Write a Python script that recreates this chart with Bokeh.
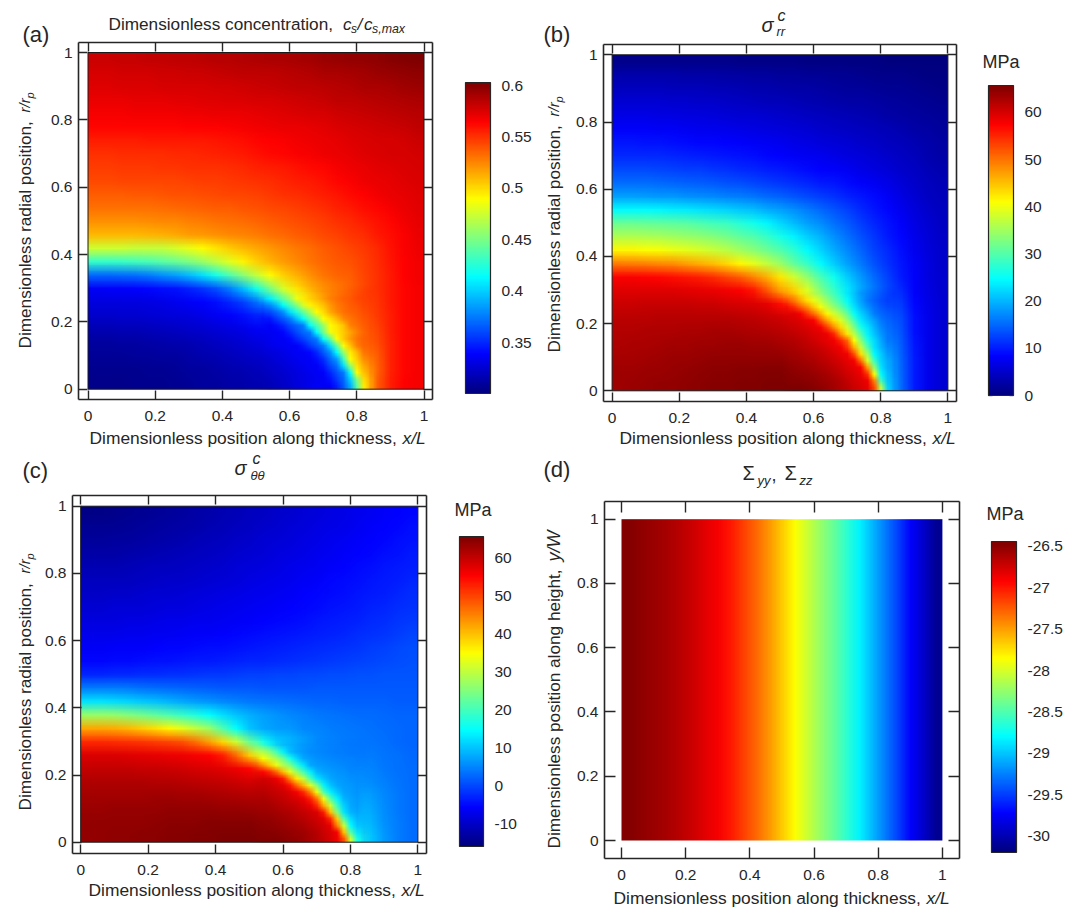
import base64, struct, zlib
import numpy as np
from bokeh.plotting import figure
from bokeh.models import Label, LinearColorMapper, ColorBar, FixedTicker, LinearAxis, Range1d, AllLabels
from bokeh.layouts import column, row
from bokeh.embed import file_html
from bokeh.resources import INLINE

tick_vals = [0, 0.2, 0.4, 0.6, 0.8, 1]
tick_text = {0: "0", 0.2: "0.2", 0.4: "0.4", 0.6: "0.6", 0.8: "0.8", 1: "1"}

# values, rows bottom (r=.02) to top (r=.98), columns x=.02 ... .98
a_grid = [
[305,305,305,306,306,306,307,308,310,311,313,314,316,318,320,323,327,335,352,400,495,538,556,565,567],
[306,306,306,306,307,307,308,310,311,313,315,317,319,321,324,327,333,345,366,420,505,535,555,564,567],
[308,308,308,309,309,310,311,313,315,317,319,321,323,326,329,333,342,365,405,470,522,538,555,564,567],
[311,311,312,312,313,314,315,317,319,321,323,326,329,332,336,342,360,405,455,505,530,542,555,564,567],
[317,317,318,318,319,320,321,323,325,327,329,332,336,341,349,365,400,445,490,520,535,545,556,564,567],
[324,324,325,325,326,327,328,330,332,335,338,342,348,357,375,410,445,478,505,527,538,548,556,564,567],
[329,329,330,330,331,332,334,336,339,343,349,358,372,395,430,462,487,508,520,532,541,549,557,564,567],
[337,338,338,339,340,342,344,348,354,363,375,395,420,450,478,498,511,521,528,535,543,550,558,564,567],
[370,370,371,372,376,381,386,394,405,420,437,455,473,490,503,513,522,530,535,538,544,551,558,565,568],
[430,430,431,433,436,440,445,451,460,470,481,492,503,512,518,524,530,535,539,541,546,552,559,565,568],
[475,475,475,473,472,473,477,483,490,497,504,510,515,520,525,529,533,538,541,544,548,553,560,566,569],
[510,510,510,510,511,513,515,518,520,522,524,526,528,531,534,537,540,543,546,549,552,557,561,566,570],
[522,522,522,522,523,524,525,527,528,530,531,533,535,537,540,542,544,547,550,553,556,560,563,568,572],
[531,531,531,532,532,533,534,535,536,537,538,540,541,543,545,547,549,552,555,558,561,564,567,570,573],
[538,538,538,539,539,540,541,541,542,543,544,545,546,548,550,552,554,556,559,562,565,568,570,572,574],
[543,543,544,544,544,545,545,546,547,547,548,549,551,552,554,556,558,560,563,566,569,571,572,574,575],
[547,547,548,548,548,549,549,550,550,551,552,553,555,556,558,560,562,564,567,569,571,573,574,575,576],
[551,551,552,552,552,552,553,553,554,555,556,558,560,562,564,566,567,569,571,572,574,575,576,577,578],
[556,556,556,556,557,557,557,558,558,559,560,561,563,565,566,568,569,571,572,574,575,576,577,578,580],
[563,563,563,564,564,564,564,565,565,565,566,567,568,569,570,571,572,573,575,576,578,579,580,581,583],
[567,567,567,568,568,568,568,569,569,570,570,571,572,573,574,575,576,577,579,580,581,582,583,585,586],
[571,571,571,572,572,572,573,573,574,574,575,575,576,577,578,579,580,581,583,584,585,586,587,588,590],
[574,574,575,575,575,576,576,577,577,578,578,579,580,581,582,583,584,585,586,587,589,590,591,593,594],
[577,577,578,578,578,579,579,580,580,581,582,583,584,584,585,586,587,589,590,591,592,594,595,597,598],
[580,580,581,581,582,582,583,584,585,586,586,587,588,589,590,591,592,594,595,596,597,598,600,601,602],
]
b_grid = [
[63.6,63.8,64,64.2,64.4,64.6,64.8,65,65.1,65.3,65.4,65.5,65.6,65.6,65.4,65,64,62,58,54,22,15,10,7,5.5],
[63.4,63.5,63.7,63.9,64.1,64.3,64.5,64.7,64.9,65,65.1,65.2,65.2,65,64.8,64.2,63,60.5,56,40,22,14.8,10,7,5.5],
[63,63.1,63.3,63.5,63.7,63.9,64.1,64.2,64.3,64.4,64.4,64.4,64.2,63.9,63.3,62.3,60.8,58,49,33,21,14.6,10,7,5.5],
[62.6,62.7,62.8,63,63.2,63.3,63.5,63.6,63.7,63.7,63.6,63.4,63.1,62.6,61.8,60.5,58,50,38,28,19,14,9.5,7,5.5],
[62.2,62.3,62.4,62.5,62.6,62.7,62.8,62.9,62.9,62.8,62.6,62.3,61.8,61,60,58,50,41,32,25,17,13.4,9,7,5.5],
[61.7,61.7,61.8,61.9,62,62,62.1,62,61.9,61.7,61.4,61,60.4,59.5,57,48,40,33,27,22,15.5,13,9,7,5.5],
[60.8,60.8,60.9,60.9,60.9,60.9,60.8,60.6,60.3,60,59.6,59,56.5,54,46,38,31,25.5,21,17.5,14,12,8.5,6.8,5.5],
[59.5,59.5,59.5,59.4,59.3,59.2,59,58.7,58.2,57.5,56,52,47,44,39,33,28,23.5,19.5,16,13,11,8.2,6.5,5.3],
[57.5,57.5,57.3,57,56.6,56.2,55.5,54.5,53,51.5,49,46,42.5,38,34,29.5,25.5,21.5,18,15,12.5,10,8,6.3,5.2],
[49.3,49.2,49,48.5,48,47,46,45,43.5,41.5,39.5,37,34.5,31,28,24.5,21.5,18.5,16,13.5,11.5,9.5,7.7,6.2,5],
[41.5,41.5,41,40.8,40,39.5,38.5,37.5,36.5,35,33.5,31.8,30,27.5,24.5,22,19.5,17,14.8,12.5,10.8,9,7.3,6,4.9],
[36,36,35.8,35.5,35,34.6,34,33.3,32.3,31,29.8,28,26,24,21.8,19.8,17.5,15.5,13.5,11.7,10,8.5,7,5.7,4.7],
[31.5,31.5,31.3,31,30.7,30.3,29.7,29,28.3,27,25.8,24.2,22.3,20.5,18.7,17.2,15.5,14,12.3,10.7,9.3,8,6.5,5.4,4.5],
[24.6,24.6,24.4,24.2,23.8,23.4,23,22.5,22,21.3,20.6,19.5,18.5,17.5,16.2,15,13.8,12.5,11,9.7,8.5,7.2,6,5,4.2],
[18.5,18.5,18.4,18.2,18,17.7,17.4,17,16.6,16.2,15.7,15.1,14.5,13.8,13,12.2,11.5,10.5,9.7,8.8,7.7,6.6,5.5,4.6,3.9],
[15.3,15.3,15.2,15,14.8,14.6,14.3,14,13.6,13.2,12.8,12.3,11.8,11.2,10.7,10,9.5,8.8,8.2,7.5,6.8,5.9,5,4.2,3.6],
[13,13,12.9,12.7,12.5,12.3,12.1,11.8,11.4,11,10.6,10.2,9.8,9.3,8.9,8.4,8,7.5,6.9,6.4,5.8,5.1,4.4,3.8,3.2],
[11,11,10.9,10.8,10.6,10.4,10.2,10,9.7,9.4,9,8.7,8.3,7.9,7.6,7.2,6.8,6.4,6,5.5,5,4.5,3.9,3.3,2.8],
[9.5,9.5,9.4,9.3,9.1,8.9,8.7,8.5,8.3,8.1,7.8,7.5,7.2,6.9,6.5,6.1,5.8,5.4,5.1,4.7,4.3,3.9,3.4,2.9,2.4],
[8.2,8.1,8,7.9,7.8,7.6,7.4,7.2,7,6.8,6.5,6.3,6,5.7,5.4,5.1,4.8,4.5,4.2,3.9,3.6,3.2,2.8,2.4,2],
[6.8,6.8,6.7,6.6,6.5,6.4,6.2,6,5.8,5.6,5.4,5.2,4.9,4.7,4.4,4.2,3.9,3.6,3.4,3.1,2.8,2.5,2.2,1.9,1.6],
[5.6,5.6,5.5,5.4,5.3,5.2,5,4.9,4.7,4.5,4.3,4.1,3.9,3.7,3.5,3.3,3,2.8,2.6,2.4,2.2,1.9,1.7,1.4,1.2],
[4.3,4.3,4.2,4.2,4.1,4,3.9,3.7,3.6,3.4,3.2,3.1,2.9,2.7,2.6,2.4,2.2,2,1.9,1.7,1.5,1.3,1.1,.9,.7],
[3,3,3,2.9,2.9,2.8,2.7,2.6,2.5,2.4,2.3,2.1,2,1.9,1.7,1.6,1.5,1.3,1.2,1,.9,.8,.6,.5,.3],
[1,1,1,1,1,.9,.9,.8,.8,.7,.7,.7,.6,.6,.5,.5,.4,.4,.3,.3,.2,.2,.1,.1,0],
]
c_grid = [
[64,64,64.1,64.2,64.4,64.6,64.8,64.9,65,65.2,65.3,65.4,65.4,65.3,65.1,64.8,64,62.5,59.5,52,18,10,6.5,4.5,3.2],
[63.7,63.7,63.8,63.9,64,64.2,64.4,64.5,64.6,64.7,64.8,64.8,64.7,64.5,64,63.4,62,60,56,30,13,9,6,4.3,3.2],
[63.3,63.3,63.4,63.4,63.5,63.6,63.7,63.8,63.8,63.7,63.6,63.4,63.1,62.7,62,61,59.5,56.5,44,21,12,8,5.8,4.2,3.2],
[62.6,62.6,62.6,62.6,62.7,62.8,62.8,62.7,62.6,62.4,62.1,61.7,61.2,60.4,59.5,58,55.5,38,23,14,10,7,5.4,4,3.2],
[61.5,61.5,61.5,61.5,61.5,61.4,61.3,61.1,60.8,60.4,60,59.5,58.8,58,55.7,50,32,16.5,10.5,8.2,7,5.8,4.8,3.8,3.1],
[60,60,60,60,59.8,59.6,59.4,59,58.6,58,57.4,56.6,55,51,43,30,17,10.5,7.7,6.5,5.8,5,4.2,3.5,3],
[58,58,58,57.8,57.5,57.3,57,56.5,56,55.3,53,47,39,30,21,13,9,7.3,6.2,5.4,4.8,4.3,3.8,3.3,2.8],
[52,52,51.8,51.5,51,50.5,50,49,46.5,42.5,38,31,23,16,11,9.5,7.5,5.8,5,4.4,4,3.6,3.3,2.9,2.6],
[42,42,41.5,40.5,39,37.5,35.5,33,30,27,21,15,10,8,7,6.5,5.5,5,4.4,4,3.7,3.4,3.1,2.8,2.5],
[27,27,26.5,25.5,24,22.5,21,19,17,14.8,12.3,10,8.5,7.3,6.3,5.4,4.8,4.2,3.8,3.4,3.2,3,2.8,2.6,2.4],
[12.5,12.5,12,11.5,10.5,9.8,9,8,7,6.2,5.3,4.8,4.2,3.8,3.4,3,2.7,2.5,2.4,2.3,2.2,2.1,2.1,2,2],
[4.5,4.5,4.3,4,3.5,3.2,2.8,2.5,2.2,1.9,1.6,1.5,1.4,1.3,1.3,1.3,1.3,1.4,1.5,1.5,1.5,1.6,1.6,1.6,1.6],
[-2.5,-2.5,-2.3,-2.2,-2,-1.9,-1.7,-1.5,-1.3,-1.1,-.9,-.7,-.5,-.3,-.1,0,.2,.3,.5,.7,.8,1,1.1,1.2,1.3],
[-5,-5,-4.8,-4.7,-4.5,-4.3,-4.1,-3.9,-3.7,-3.5,-3.2,-3,-2.7,-2.5,-2.2,-1.9,-1.6,-1.3,-1,-.7,-.3,0,.3,.6,.9],
[-6,-6,-5.9,-5.8,-5.7,-5.5,-5.3,-5.1,-4.9,-4.6,-4.4,-4.1,-3.9,-3.6,-3.3,-3,-2.6,-2.3,-2,-1.6,-1.2,-.8,-.4,.1,.5],
[-7,-7,-6.9,-6.8,-6.7,-6.5,-6.3,-6.1,-5.9,-5.7,-5.4,-5.2,-4.9,-4.6,-4.3,-4,-3.6,-3.3,-2.9,-2.5,-2.1,-1.6,-1.2,-.7,-.2],
[-8,-8,-7.9,-7.8,-7.6,-7.4,-7.2,-7,-6.8,-6.6,-6.3,-6,-5.7,-5.4,-5.1,-4.8,-4.4,-4,-3.6,-3.2,-2.8,-2.4,-1.9,-1.4,-.9],
[-8.9,-8.9,-8.8,-8.7,-8.5,-8.3,-8.1,-7.9,-7.6,-7.4,-7.1,-6.8,-6.5,-6.2,-5.8,-5.5,-5.1,-4.7,-4.3,-3.9,-3.5,-3,-2.5,-2,-1.5],
[-9.8,-9.8,-9.7,-9.5,-9.3,-9.1,-8.9,-8.7,-8.4,-8.1,-7.8,-7.5,-7.2,-6.8,-6.4,-6.1,-5.6,-5.2,-4.8,-4.4,-4,-3.5,-3.1,-2.6,-2.1],
[-10.7,-10.7,-10.5,-10.4,-10.2,-10,-9.7,-9.5,-9.2,-8.9,-8.5,-8.2,-7.8,-7.4,-7,-6.6,-6.2,-5.8,-5.3,-4.9,-4.4,-4,-3.5,-3.1,-2.6],
[-11.5,-11.5,-11.4,-11.2,-11,-10.7,-10.5,-10.2,-9.9,-9.5,-9.2,-8.8,-8.4,-8,-7.6,-7.2,-6.8,-6.3,-5.8,-5.4,-4.9,-4.5,-4,-3.6,-3.1],
[-12.5,-12.5,-12.4,-12.2,-11.9,-11.6,-11.3,-11,-10.6,-10.2,-9.8,-9.4,-9,-8.6,-8.1,-7.7,-7.3,-6.8,-6.3,-5.9,-5.4,-5,-4.6,-4.1,-3.6],
[-13.4,-13.4,-13.2,-13,-12.7,-12.4,-12.1,-11.7,-11.3,-10.9,-10.5,-10,-9.6,-9.1,-8.7,-8.2,-7.8,-7.3,-6.8,-6.4,-5.9,-5.5,-5,-4.6,-4.1],
[-14.2,-14.2,-14,-13.8,-13.5,-13.2,-12.8,-12.4,-12,-11.5,-11.1,-10.6,-10.1,-9.7,-9.2,-8.7,-8.3,-7.8,-7.3,-6.9,-6.4,-5.9,-5.5,-5,-4.5],
[-15,-15,-14.8,-14.5,-14.2,-13.8,-13.4,-13,-12.6,-12.1,-11.6,-11.2,-10.7,-10.2,-9.7,-9.2,-8.7,-8.3,-7.8,-7.3,-6.8,-6.4,-5.9,-5.4,-5],
]
d_row = [-26.46,-26.50,-26.55,-26.60,-26.66,-26.73,-26.81,-26.89,-27.00,-27.15,-27.30,-27.47,-27.66,-27.85,-28.05,-28.24,-28.42,-28.62,-28.83,-29.05,-29.26,-29.49,-29.73,-29.92,-30.12]

# finer readings round the sharp front: rows r=.01 ... .31, columns x=.50 ... .86, step .02
a_front = [
[.316,.317,.318,.320,.322,.325,.328,.331,.334,.336,.337,.338,.347,.365,.39,.44,.495,.52,.534],
[.317,.318,.319,.321,.323,.326,.329,.331,.333,.335,.337,.342,.356,.37,.40,.452,.50,.52,.535],
[.318,.319,.321,.323,.325,.327,.33,.332,.334,.336,.338,.35,.363,.376,.418,.489,.508,.527,.537],
[.32,.321,.323,.325,.327,.33,.332,.334,.336,.337,.345,.36,.372,.405,.458,.497,.515,.53,.54],
[.322,.323,.325,.328,.33,.332,.334,.336,.337,.342,.352,.37,.385,.432,.489,.504,.523,.533,.542],
[.325,.326,.328,.33,.332,.334,.336,.337,.34,.35,.365,.38,.414,.46,.495,.51,.53,.537,.545],
[.328,.33,.332,.334,.335,.336,.338,.345,.355,.365,.376,.405,.443,.49,.508,.527,.535,.54,.547],
[.33,.332,.334,.336,.337,.34,.35,.358,.367,.376,.414,.443,.489,.505,.52,.53,.536,.542,.548],
[.332,.333,.335,.337,.34,.35,.36,.37,.376,.414,.448,.485,.495,.505,.516,.527,.535,.542,.548],
[.335,.336,.337,.342,.35,.36,.368,.376,.414,.436,.458,.49,.497,.508,.527,.532,.537,.543,.549],
[.337,.338,.345,.355,.365,.376,.396,.416,.44,.46,.489,.498,.51,.524,.53,.535,.54,.545,.55],
[.345,.35,.36,.37,.382,.405,.424,.444,.465,.49,.50,.515,.525,.531,.535,.538,.542,.547,.552],
[.352,.364,.379,.393,.414,.433,.452,.477,.493,.50,.508,.52,.528,.533,.537,.54,.544,.548,.553],
[.383,.397,.41,.427,.444,.46,.484,.495,.503,.51,.519,.527,.532,.536,.539,.543,.546,.55,.554],
[.405,.426,.444,.456,.47,.486,.493,.50,.51,.518,.525,.53,.534,.537,.541,.544,.548,.551,.555],
[.448,.462,.47,.484,.493,.50,.507,.514,.52,.526,.53,.534,.536,.54,.543,.546,.549,.552,.556],
]
b_front = [
[65.6,65.6,65.6,65.5,65.3,65,64.6,64,63.3,62.6,61.8,60.8,59.8,58.8,53,37,22,17.5,15.5],
[65.3,65.2,65.1,65,64.8,64.6,64.1,63.5,62.9,62.2,61.3,60.3,59.3,58.5,49.3,29,21,17.3,15.3],
[65,64.9,64.8,64.6,64.3,64,63.5,62.9,62.2,61.4,60.5,59.6,58.7,54.5,41,24.6,20.5,16.4,15],
[64.6,64.5,64.3,64,63.7,63.3,62.8,62.2,61.4,60.6,59.7,59,57.5,47.5,34,23,19.5,16,14.5],
[64.2,64,63.8,63.5,63.1,62.7,62.1,61.4,60.7,59.8,59,58,50.5,38.5,28.5,22,19,16,14.5],
[63.7,63.5,63.2,62.9,62.5,62,61.4,60.7,59.8,59,58.2,52.5,43,35,24.6,21.5,18,15.5,14],
[63.3,63,62.7,62.3,61.8,61.3,60.6,59.8,59,58.2,54,46,37.5,30,23,20,17,15,13.5],
[62.8,62.5,62.2,61.7,61.1,60.5,59.7,59,58.2,55,51,41,33.5,26.5,22.5,19,16,14.5,13],
[62.3,62,61.5,61,60.4,59.7,59.2,58.3,55,48,42.5,36.5,30,24,21,18,15.8,14,12.8],
[61.7,61.2,60.8,60.2,59.6,59,58,53.5,48,43.5,38,32.5,26,23,20,17,15.3,13.7,12.5],
[60.8,60.4,60,59.4,58.4,57.5,52,47,43,39,34.5,29,23.5,21,18.5,16,14.8,13.3,12.2],
[60,59.5,59.2,58,54,50.5,46,41.5,38,35,31,25,22,19.3,16.4,15,14,12.8,11.8],
[59,57.9,54.7,51.5,48.3,44.5,40.5,37,34,31,27,23,20,17.5,15.5,14,13,12,11.2],
[54.5,52,49.3,46,42.7,39.6,37,34,31,28,24.6,21.5,18.5,16,14.5,13.2,12.2,11.4,10.6],
[49.3,46.5,44,40.8,38.3,36,33.4,31,28.6,26,22.6,19.8,16.4,15,13.8,12.6,11.7,10.9,10.1],
[45,42,39.4,37.3,35,33,31,29,26.5,24,21,17.5,15.5,14,13,12,11.2,10.5,9.8],
]
c_front = [
[65.4,65.3,65.2,65.1,65,64.7,64.3,63.8,63.2,62.3,61.3,60,58.5,56.5,49,31,16,10,7.5],
[65,64.9,64.8,64.7,64.5,64.2,63.8,63.3,62.8,62,61,59.5,58,56,40,22,12.5,8.5,7],
[64.6,64.5,64.4,64.3,64,63.6,63,62.5,61.8,61,60,58.7,57,45,31,14.7,10,8,6.7],
[64.2,64.1,64,63.7,63.3,62.8,62.2,61.7,61,60,59,57.5,52,39,21,12,8.8,7.3,6.3],
[63.7,63.5,63.2,62.9,62.5,62,61.5,60.8,60,59,58,53,40,25,12.5,8.8,7.5,6.7,5.9],
[63.2,63,62.6,62.2,61.7,61,60.4,59.6,58.5,57,52,42,31,19,11,8,7,6.2,5.6],
[62.6,62.3,61.8,61.3,60.7,60,59.2,58,57,53,46,34,22,14,9,7.5,6.6,6,5.4],
[62,61.6,61,60.4,59.7,59,57.8,56,52,45,34,21,13.5,10,7.6,7,6.2,5.7,5.2],
[61.2,60.7,60,59.3,58.5,57.5,54,47,41,33,25,14,10,8,7,6.5,5.9,5.4,5],
[60,59.5,58.8,58,56.5,53,44.5,36.5,30,21,13,10,8,7,6.5,6,5.6,5.2,4.8],
[58.5,57.5,55,52,47,40,33,26.5,20,13.5,9,7.7,7,6.4,6,5.5,5.2,4.9,4.6],
[52,48,44,39,33.8,29,25,18,12.5,8,7,6.5,6,5.7,5.3,5,4.8,4.6,4.4],
[43,39,35,31.5,28,23,16.5,11.5,8,6.8,6,5.7,5.4,5,4.8,4.6,4.4,4.2,4],
[35,31.5,28.5,25,19.5,13.5,9.5,7.5,6.5,5.8,5.3,5,4.8,4.5,4.3,4.1,4,3.9,3.8],
[28,24,18.5,14,10.5,8,6.8,6,5.5,5,4.6,4.3,4.2,4,3.9,3.8,3.7,3.6,3.5],
[17.5,13.5,10.5,8,7,6.2,5.6,5.2,4.9,4.5,4.2,4,3.8,3.7,3.6,3.5,3.5,3.4,3.4],
]

a_ticks = {0.35:"0.35",0.4:"0.4",0.45:"0.45",0.5:"0.5",0.55:"0.55",0.6:"0.6"}
b_ticks = {0:"0",10:"10",20:"20",30:"30",40:"40",50:"50",60:"60"}
c_ticks = {-10:"-10",0:"0",10:"10",20:"20",30:"30",40:"40",50:"50",60:"60"}
d_ticks = {-26.5:"-26.5",-27:"-27",-27.5:"-27.5",-28:"-28",-28.5:"-28.5",-29:"-29",-29.5:"-29.5",-30:"-30"}

jet_stops = ["#00007F","#0000FF","#007FFF","#00FFFF","#7FFF7F","#FFFF00","#FF7F00","#FF0000","#7F0000"]
def jet256():
    rgb = np.array([[int(c[i:i+2],16) for i in (1,3,5)] for c in jet_stops],float)
    t = np.linspace(0,8,256)
    ch = [np.interp(t,np.arange(9),rgb[:,k]) for k in range(3)]
    return ["#%02X%02X%02X"%(int(round(r)),int(round(g)),int(round(b))) for r,g,b in zip(*ch)]
JET = jet256()
JET_RGB = np.array([[int(c[i:i+2],16) for i in (1,3,5)] for c in JET],dtype=np.uint8)
FONT = "Liberation Sans"
INK = "#262626"

def png_url(grid, low, high, feather=False):
    """Colour the grid with the colour bar's own scale and hand it to the browser, which draws it smoothly."""
    arr = np.array(grid,float)[::-1]
    idx = np.clip(((arr-low)/(high-low)*256).astype(int),0,255)
    h,w = arr.shape
    alpha = np.full((h,w),255,dtype=np.uint8)
    if feather:  # let the detail patch fade into the coarser reading under it (not at the image's own bottom edge)
        alpha[:,1] = 128; alpha[:,-2] = 128; alpha[1,:] = np.minimum(alpha[1,:],128)
        alpha[:,0] = 0; alpha[:,-1] = 0; alpha[0,:] = 0
    rgba = np.dstack([JET_RGB[idx],alpha])
    raw = b"".join(b"\x00"+rgba[i].tobytes() for i in range(h))
    def chunk(t,d):
        return struct.pack(">I",len(d))+t+d+struct.pack(">I",zlib.crc32(t+d)&0xffffffff)
    png = b"\x89PNG\r\n\x1a\n"+chunk(b"IHDR",struct.pack(">IIBBBBB",w,h,8,6,0,0,0))+chunk(b"IDAT",zlib.compress(raw))+chunk(b"IEND",b"")
    return "data:image/png;base64,"+base64.b64encode(png).decode()

def panel(pg, grid, front, low, high, cticks, outline):
    fl,fr,ft,fb = pg["frame"]
    x0,x1,y1,y0 = pg["unit"]
    ox,oy = pg["origin"]
    w,h = pg["w"],pg["h"]
    X = lambda px:(px-x0)/(x1-x0)
    Y = lambda py:(y0-py)/(y0-y1)
    p = figure(frame_width=w,frame_height=h,width=w,height=h,x_range=Range1d(X(ox),X(ox+w)),y_range=Range1d(Y(oy+h),Y(oy)),
               output_backend="svg",toolbar_location=None,
               min_border=0,x_axis_location=None,y_axis_location=None)
    p.grid.visible=False
    p.outline_line_color=None
    mapper = LinearColorMapper(palette=JET,low=low,high=high)
    p.image_url(url=[png_url(grid,low,high)],x=0,y=0,w=1,h=1,anchor="bottom_left")
    if front is not None:
        p.image_url(url=[png_url(front,low,high,True)],x=0.49,y=0,w=0.38,h=0.32,anchor="bottom_left")
    if outline:
        p.quad(left=0,right=1,bottom=0,top=1,fill_color=None,line_color="#1a1a1a",line_width=1)
    for side in ("below","left","above","right"):
        horiz = side in ("below","above")
        loc = {"below":Y(fb),"above":Y(ft),"left":X(fl),"right":X(fr)}[side]
        bounds = (X(fl),X(fr)) if horiz else (Y(fb),Y(ft))
        ax = LinearAxis(ticker=FixedTicker(ticks=tick_vals),major_label_overrides=tick_text,
                        fixed_location=loc,bounds=bounds,
                        major_tick_in=pg["tick"],major_tick_out=0,major_tick_line_color=INK,major_tick_line_width=1.4,
                        minor_tick_line_color=None,axis_line_color=INK,axis_line_width=1.6,
                        major_label_text_font=FONT,major_label_text_font_size="15.5px",major_label_text_color=INK,
                        major_label_standoff=11 if horiz else 6)
        if side in ("above","right"):
            ax.major_label_overrides={v:"" for v in tick_vals}
            ax.major_label_text_font_size="1px"
        p.add_layout(ax,side)
    def txt(px,py,s,size,style="normal",align="left",angle=0):
        p.add_layout(Label(x=X(px),y=Y(py),text=s,text_font=FONT,text_font_size=f"{size}px",text_font_style=style,
                           text_color=INK,text_align=align,text_baseline="middle",angle=angle,angle_units="deg"))
    for t in pg["texts"]:
        txt(*t)
    cx0,cx1,cyt,cyb = pg["cbar"]
    cb = ColorBar(color_mapper=mapper,ticker=FixedTicker(ticks=list(cticks)),major_label_overrides=cticks,
                  major_label_policy=AllLabels(),
                  location=(cx0-ox,oy+h-cyb),width=cx1-cx0,height=cyb-cyt,padding=0,
                  major_tick_in=0,minor_tick_line_color=None,
                  bar_line_color=INK,bar_line_width=1.2,label_standoff=pg["stand"],
                  major_label_text_font=FONT,major_label_text_font_size="15.5px",major_label_text_color=INK,
                  background_fill_color=None,border_line_color=None)
    p.add_layout(cb)
    # short marks on both edges of the colour bar, placed by the bar's own scale
    tv = np.array(list(cticks),float)
    ty = cyb-(tv-low)/(high-low)*(cyb-cyt)
    ys = [Y(v) for v in ty]
    p.segment(x0=[X(cx0)]*len(ys),x1=[X(cx0+4)]*len(ys),y0=ys,y1=ys,line_color="#111111",line_width=1.3)
    p.segment(x0=[X(cx1-4)]*len(ys),x1=[X(cx1)]*len(ys),y0=ys,y1=ys,line_color="#111111",line_width=1.3)
    return p

XLAB = "Dimensionless position along thickness,"
W,H1,H2 = 536,450,460
XS,YS = 17.4,17.2
a = panel(dict(frame=(78,432,42,399),unit=(87.5,423.5,52,388.7),origin=(0,0),w=W,h=H1,tick=9,cbar=(465,490,82,393),stand=11,
    texts=[(22,34,"(a)",22),(108,23,"Dimensionless concentration,",17.2),(342.5,24,"c",17,"italic"),(350.5,28.5,"s",12,"italic"),(357,24,"/",17,"italic"),(363.5,24,"c",17,"italic"),(371.5,28.5,"s,max",12.4,"italic"),
           (89,437,XLAB,XS),(402,437,"x/L",XS,"italic"),(24,348,"Dimensionless radial position,",YS,"normal","left",90),(24,112,"r/r",15,"italic","left",90),(29,98,"p",11,"italic","left",90)]),
    (np.array(a_grid)/1000).tolist(),a_front,0.3005,0.603,a_ticks,True)
b = panel(dict(frame=(603,956,44,401),unit=(611.6,947.4,54.3,390.3),origin=(W,0),w=W,h=H1,tick=9,cbar=(988,1013,85,395),stand=11,
    texts=[(543,34,"(b)",22),(761,24,"σ",20,"italic"),(777,15,"c",16,"italic"),(776,31,"rr",13,"italic"),(982,61,"MPa",18),
           (619,437,XLAB,XS),(932,437,"x/L",XS,"italic"),(553,352,"Dimensionless radial position,",YS,"normal","left",90),(553,116,"r/r",15,"italic","left",90),(558,102,"p",11,"italic","left",90)]),
    b_grid,b_front,0,65.7,b_ticks,True)
c = panel(dict(frame=(72,426,495,853),unit=(80.2,417.4,505.7,841.7),origin=(0,H1),w=W,h=H2,tick=9,cbar=(459,483,536,846),stand=11,
    texts=[(22,470,"(c)",22),(234,467,"σ",20,"italic"),(252,458,"c",16,"italic"),(250,475,"θθ",13,"italic"),(454,509,"MPa",18),
           (88,889,XLAB,XS),(401,889,"x/L",XS,"italic"),(24,810,"Dimensionless radial position,",YS,"normal","left",90),(24,573,"r/r",15,"italic","left",90),(29,559,"p",11,"italic","left",90)]),
    c_grid,c_front,-15.8,65.6,c_ticks,True)
d = panel(dict(frame=(604,959,501,858),unit=(621,941.9,518.7,840),origin=(W,H1),w=W,h=H2,tick=11,cbar=(991,1016,541,852),stand=11,
    texts=[(543,469,"(d)",22),(742,472,"Σ",20),(757,480,"yy",13,"italic"),(771,474,",",18),(784,472,"Σ",20),(799,480,"zz",13,"italic"),(986,513,"MPa",18),
           (613,897,XLAB,XS),(926,897,"x/L",XS,"italic"),(553,848,"Dimensionless position along height,",17.2,"normal","left",90),(553,561,"y/W",18,"italic","left",90)]),
    [d_row],None,-30.2,-26.44,d_ticks,False)

page = column(row(a,b),row(c,d))
open("out.html","w").write(file_html(page,INLINE))
